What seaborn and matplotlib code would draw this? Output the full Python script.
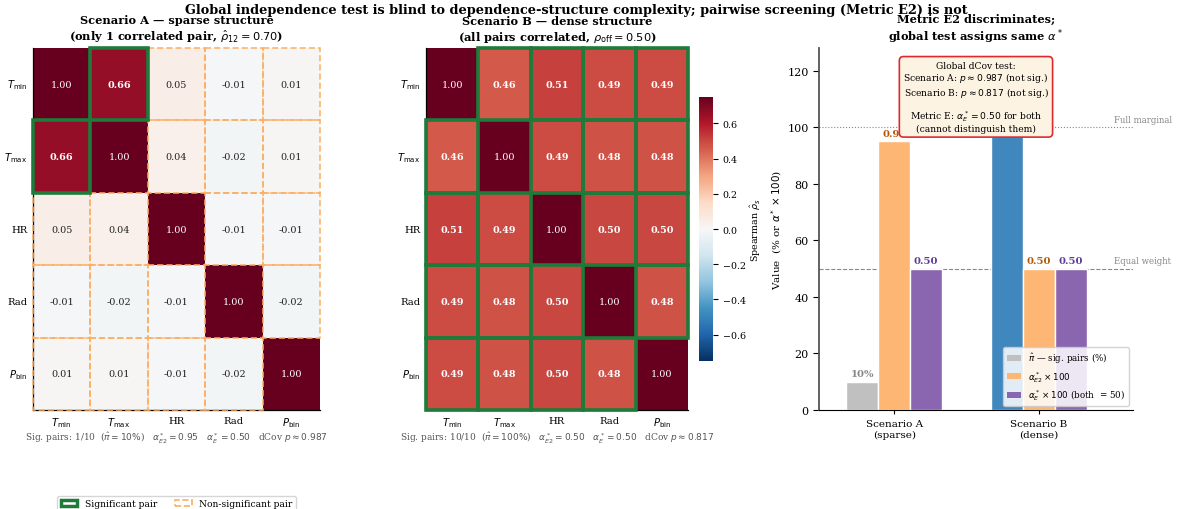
import numpy as np
import pandas as pd
import matplotlib
matplotlib.use("Agg")
import matplotlib.pyplot as plt
from matplotlib.patches import Rectangle, Patch
import seaborn as sns

# ---- data -----------------------------------------------------------------
variables = [r"$T_{\min}$", r"$T_{\max}$", "HR", "Rad", r"$P_{\rm bin}$"]

corr_sparse = [
    [1.00, 0.66, 0.05, -0.01, 0.01],
    [0.66, 1.00, 0.04, -0.02, 0.01],
    [0.05, 0.04, 1.00, -0.01, -0.01],
    [-0.01, -0.02, -0.01, 1.00, -0.02],
    [0.01, 0.01, -0.01, -0.02, 1.00],
]
corr_dense = [
    [1.00, 0.46, 0.51, 0.49, 0.49],
    [0.46, 1.00, 0.49, 0.48, 0.48],
    [0.51, 0.49, 1.00, 0.50, 0.50],
    [0.49, 0.48, 0.50, 1.00, 0.48],
    [0.49, 0.48, 0.50, 0.48, 1.00],
]
# significant off-diagonal pairs (row, col)
sig_sparse = [(0, 1), (1, 0)]
sig_dense = [(i, j) for i in range(5) for j in range(5) if i != j]

caption_sparse = (r"Sig. pairs: 1/10  ($\hat{\pi}=10\%$)   $\alpha^*_{E2}=0.95$   "
                  r"$\alpha^*_{E}=0.50$   dCov $p\approx0.987$")
caption_dense = (r"Sig. pairs: 10/10  ($\hat{\pi}=100\%$)   $\alpha^*_{E2}=0.50$   "
                 r"$\alpha^*_{E}=0.50$   dCov $p\approx0.817$")

scenarios = ["Scenario A\n(sparse)", "Scenario B\n(dense)"]
metrics = [r"$\hat{\pi}$ — sig. pairs (%)", r"$\alpha^*_{E2}\times100$",
           r"$\alpha^*_{E}\times100$ (both  = 50)"]
pi_hat = [10, 100]
alpha_e2 = [95, 50]
alpha_e = [50, 50]
pi_labels = ["10%", "100%"]
alpha_e2_labels = ["0.95", "0.50"]
alpha_e_labels = ["0.50", "0.50"]

# ---- style ----------------------------------------------------------------
plt.rcParams.update({
    "font.family": "DejaVu Serif",
    "axes.spines.top": False,
    "axes.spines.right": False,
})

GREEN = "#1e7b3a"
ORANGE_EDGE = "#fdae61"
C_GRAY = "#c0c0c0"
C_BLUE = "#3f87bd"
C_ORANGE = "#fdb673"
C_PURPLE = "#8a66b0"

fig = plt.figure(figsize=(11.77, 5.10), dpi=100)

ax_a = fig.add_axes([0.0280, 0.1941, 0.2438, 0.7098])
ax_b = fig.add_axes([0.3619, 0.1941, 0.2226, 0.7098])
cax = fig.add_axes([0.5939, 0.2902, 0.0119, 0.5176])
ax_c = fig.add_axes([0.6958, 0.1941, 0.2668, 0.7098])


def draw_matrix(ax, values, sig, cbar_ax=None):
    df = pd.DataFrame(values, index=variables, columns=variables)
    sns.heatmap(df, ax=ax, cmap="RdBu_r", vmin=-0.75, vmax=0.75,
                annot=True, fmt=".2f", annot_kws={"size": 6.9},
                cbar=cbar_ax is not None, cbar_ax=cbar_ax)
    n = len(variables)
    sig_set = set(sig)
    # annotation styling
    for k, t in enumerate(ax.texts):
        i, j = divmod(k, n)
        if i == j:
            t.set_color("white")
            t.set_fontweight("normal")
        elif (i, j) in sig_set:
            t.set_color("white")
            t.set_fontweight("bold")
        else:
            t.set_color("#222222")
            t.set_fontweight("normal")
    # cell borders: dashed for non-significant, solid green for significant
    for i in range(n):
        for j in range(n):
            if i == j or (i, j) in sig_set:
                continue
            ax.add_patch(Rectangle((j, i), 1, 1, fill=False, edgecolor=ORANGE_EDGE,
                                   lw=1.1, linestyle=(0, (4, 2)), zorder=3,
                                   clip_on=False))
    for (i, j) in sig:
        ax.add_patch(Rectangle((j, i), 1, 1, fill=False, edgecolor=GREEN,
                               lw=2.6, zorder=4, clip_on=False))
    ax.spines["left"].set_visible(True)
    ax.spines["bottom"].set_visible(True)
    for s in ("left", "bottom"):
        ax.spines[s].set_linewidth(0.9)
        ax.spines[s].set_color("black")
    ax.tick_params(length=0, labelsize=7.2, pad=4)
    ax.set_yticklabels(variables, rotation=0)
    ax.set_xticklabels(variables, rotation=0)


draw_matrix(ax_a, corr_sparse, sig_sparse)
draw_matrix(ax_b, corr_dense, sig_dense, cbar_ax=cax)

ax_a.set_title("Scenario A — sparse structure\n"
               r"(only 1 correlated pair, $\hat{\rho}_{12}=0.70$)",
               fontsize=8.2, fontweight="bold", pad=6)
ax_b.set_title("Scenario B — dense structure\n"
               r"(all pairs correlated, $\rho_{\rm off}=0.50$)",
               fontsize=8.2, fontweight="bold", pad=6)

cax.set_ylabel(r"Spearman $\hat{\rho}_s$", fontsize=6.8, labelpad=2)
cax.yaxis.set_ticks([-0.6, -0.4, -0.2, 0.0, 0.2, 0.4, 0.6])
cax.tick_params(labelsize=6.8)

for ax, cap in ((ax_a, caption_sparse), (ax_b, caption_dense)):
    pos = ax.get_position()
    fig.text(pos.x0 + pos.width / 2, 0.141, cap, ha="center", va="center",
             fontsize=6.5, color="#555555")

# ---- grouped bars ---------------------------------------------------------
bars = pd.DataFrame({
    "scenario": scenarios * 3,
    "metric": [metrics[0]] * 2 + [metrics[1]] * 2 + [metrics[2]] * 2,
    "value": pi_hat + alpha_e2 + alpha_e,
})
sns.barplot(data=bars, x="scenario", y="value", hue="metric",
            hue_order=metrics, order=scenarios,
            palette=[C_GRAY, C_ORANGE, C_PURPLE], saturation=1, width=0.66,
            edgecolor="white", linewidth=1.0, ax=ax_c, legend=False, zorder=2)

# the dense scenario's screening bar is highlighted
ax_c.containers[0][1].set_facecolor(C_BLUE)

label_sets = [(pi_labels, ["#888888", C_BLUE]),
              (alpha_e2_labels, ["#b35806", "#b35806"]),
              (alpha_e_labels, ["#5e3c99", "#5e3c99"])]
for cont, (labels, colors) in zip(ax_c.containers, label_sets):
    for bar, lab, col in zip(cont, labels, colors):
        ax_c.text(bar.get_x() + bar.get_width() / 2, bar.get_height() + 1.3, lab,
                  ha="center", va="bottom", fontsize=7.2, fontweight="bold",
                  color=col, zorder=3)

ax_c.axhline(100, color="#888888", lw=0.8, linestyle=":", zorder=1)
ax_c.axhline(50, color="#888888", lw=0.8, linestyle="--", zorder=1)
ax_c.text(1.52, 101.2, "Full marginal", fontsize=6.2, color="#888888",
          ha="left", va="bottom", clip_on=False)
ax_c.text(1.52, 51.2, "Equal weight", fontsize=6.2, color="#888888",
          ha="left", va="bottom", clip_on=False)

ax_c.set_xlim(-0.52, 1.65)
ax_c.set_ylim(0, 128)
ax_c.set_xlabel("")
ax_c.set_ylabel(r"Value  (% or $\alpha^*\times100$)", fontsize=7.5, labelpad=2)
ax_c.set_yticks([0, 20, 40, 60, 80, 100, 120])
ax_c.tick_params(axis="y", labelsize=8, length=4)
ax_c.tick_params(axis="x", labelsize=7.5, length=3)
ax_c.spines["left"].set_color("#555555")
ax_c.spines["left"].set_linewidth(1.3)
ax_c.spines["bottom"].set_color("black")
ax_c.set_title("Metric E2 discriminates;\nglobal test assigns same $\\alpha^*$",
               fontsize=8.2, fontweight="bold", pad=6)

ax_c.text(0.5, 0.965,
          "Global dCov test:\n"
          r"Scenario A: $p\approx0.987$ (not sig.)" "\n"
          r"Scenario B: $p\approx0.817$ (not sig.)" "\n\n"
          r"Metric E: $\alpha^*_{E}=0.50$ for both" "\n"
          "(cannot distinguish them)",
          transform=ax_c.transAxes, ha="center", va="top", fontsize=6.6,
          zorder=10, linespacing=1.05,
          bbox=dict(boxstyle="round,pad=0.45", facecolor="#fdf3e3",
                    edgecolor="#e0282e", lw=1.2))

bar_handles = [Patch(facecolor=c) for c in (C_GRAY, C_ORANGE, C_PURPLE)]
ax_c.legend(bar_handles, metrics, loc="lower right", fontsize=6.3,
            framealpha=0.85, handlelength=1.6, labelspacing=0.4)

# ---- figure-level legend and title ----------------------------------------
fig.legend([Patch(facecolor="white", edgecolor=GREEN, lw=2.5),
            Patch(facecolor="none", edgecolor=ORANGE_EDGE, lw=1.2, linestyle="--")],
           ["Significant pair", "Non-significant pair"],
           loc="upper center", bbox_to_anchor=(0.15, 0.035), ncol=2,
           fontsize=6.6, frameon=True, handlelength=1.8)

fig.suptitle("Global independence test is blind to dependence-structure complexity; "
             "pairwise screening (Metric E2) is not",
             fontsize=9.3, fontweight="bold", x=0.49, y=0.993, va="top")

fig.savefig("out.png", dpi=100)
